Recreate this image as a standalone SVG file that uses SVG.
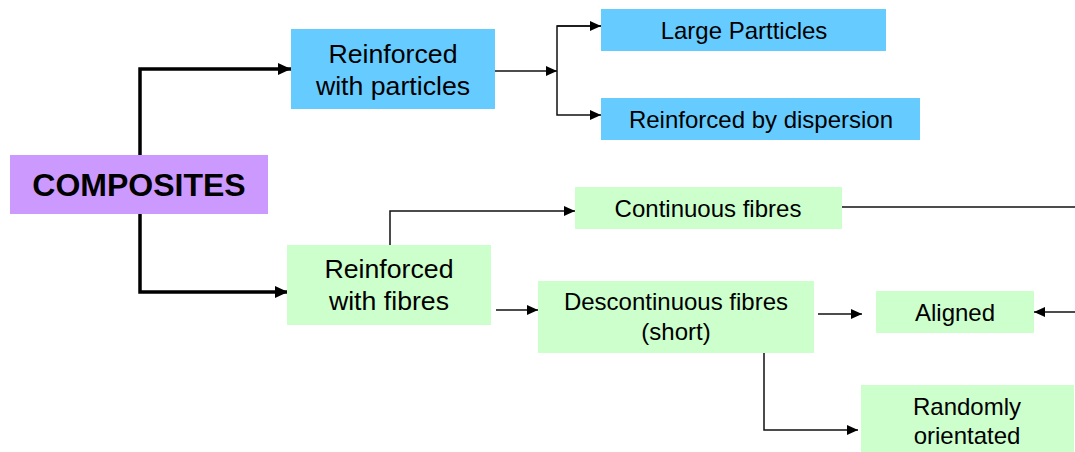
<svg xmlns="http://www.w3.org/2000/svg" width="1075" height="452" viewBox="0 0 1075 452">
<defs>
<style>
.t{font-family:"Liberation Sans",Arial,sans-serif;fill:#000;text-anchor:middle}
.s{font-size:24px}
.m{font-size:26.7px}
.b{font-size:32px;font-weight:bold}
.blue{fill:#66CCFF}
.green{fill:#CCFFCC}
.purple{fill:#CC99FF}
.thin{fill:none;stroke:#111;stroke-width:1.5}
.thick{fill:none;stroke:#000;stroke-width:3.5}
</style>
<marker id="a" markerUnits="userSpaceOnUse" markerWidth="12" markerHeight="10" refX="11" refY="5" orient="auto"><path d="M0,0 L11,5 L0,10 Z" fill="#000"/></marker>
<marker id="A" markerUnits="userSpaceOnUse" markerWidth="14" markerHeight="12" refX="13" refY="6" orient="auto"><path d="M0,0 L13,6 L0,12 Z" fill="#000"/></marker>
</defs>
<g id="connectors">
<path class="thick" d="M140,155 V69 H291" marker-end="url(#A)"/>
<path class="thick" d="M140,214 V292 H288" marker-end="url(#A)"/>
<path class="thin" d="M495,71 H557" marker-end="url(#a)"/>
<path class="thin" d="M601,26 H557 V115 H601" marker-end="url(#a)"/>
<path class="thin" d="M557,26 H601" marker-end="url(#a)"/>
<path class="thin" d="M390,245 V211 H575" marker-end="url(#a)"/>
<path class="thin" d="M841,207 H1075"/>
<path class="thin" d="M1075,312 H1034" marker-end="url(#a)"/>
<path class="thin" d="M496,310 H538" marker-end="url(#a)"/>
<path class="thin" d="M818,314 H862" marker-end="url(#a)"/>
<path class="thin" d="M764,352 V430 H858" marker-end="url(#a)"/>
</g>
<g id="composites"><rect class="purple" x="10" y="155" width="258" height="59"/><text class="t b" x="139" y="196">COMPOSITES</text></g>
<g id="particles"><rect class="blue" x="291" y="29" width="204" height="80"/><text class="t m" x="393" y="63">Reinforced</text><text class="t m" x="393" y="95">with particles</text></g>
<g id="large"><rect class="blue" x="601" y="9" width="285" height="42"/><text class="t s" x="744" y="39">Large Partticles</text></g>
<g id="dispersion"><rect class="blue" x="601" y="98" width="319" height="42"/><text class="t s" x="761" y="128">Reinforced by dispersion</text></g>
<g id="fibres"><rect class="green" x="287" y="245" width="204" height="80"/><text class="t m" x="389" y="278">Reinforced</text><text class="t m" x="389" y="310">with fibres</text></g>
<g id="continuous"><rect class="green" x="575" y="187" width="267" height="42"/><text class="t s" x="708" y="217">Continuous fibres</text></g>
<g id="descontinuous"><rect class="green" x="538" y="281" width="276" height="72"/><text class="t s" x="676" y="310">Descontinuous fibres</text><text class="t s" x="676" y="340">(short)</text></g>
<g id="aligned"><rect class="green" x="876" y="291" width="158" height="42"/><text class="t s" x="955" y="321">Aligned</text></g>
<g id="randomly"><rect class="green" x="861" y="385" width="213" height="67"/><text class="t s" x="967" y="415">Randomly</text><text class="t s" x="967" y="444">orientated</text></g>
</svg>
